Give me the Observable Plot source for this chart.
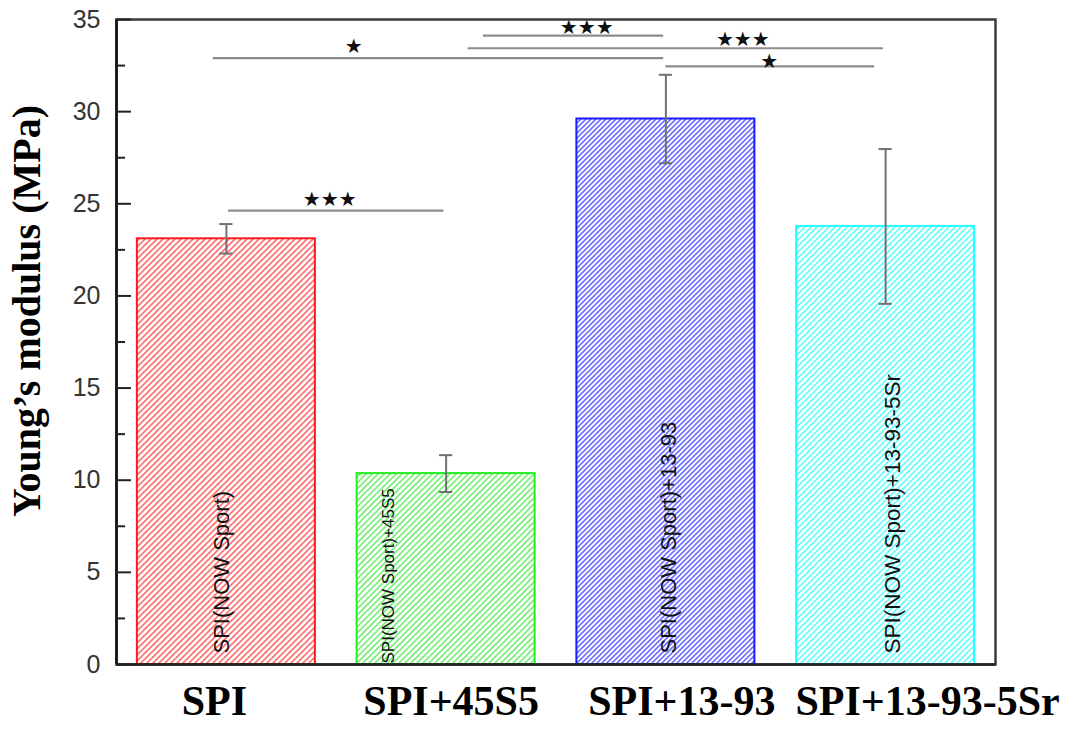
<!DOCTYPE html>
<html><head><meta charset="utf-8">
<script src="https://cdn.jsdelivr.net/npm/d3@7"></script>
<script src="https://cdn.jsdelivr.net/npm/@observablehq/plot@0.6"></script>
<style>body{margin:0;background:#fff}#chart svg{display:block}</style>
</head><body><div id="chart"></div>
<script>
// ---- data ----
const categories = ["SPI", "SPI+45S5", "SPI+13-93", "SPI+13-93-5Sr"];
const means = [23.1, 10.36, 29.6, 23.77];
const errors = [0.8, 1.0, 2.4, 4.2];
const barLabels = ["SPI(NOW Sport)", "SPI(NOW Sport)+45S5", "SPI(NOW Sport)+13-93", "SPI(NOW Sport)+13-93-5Sr"];
const yTicks = [0, 5, 10, 15, 20, 25, 30, 35];
const yMinorTicks = [2.5, 7.5, 12.5, 17.5, 22.5, 27.5, 32.5];
const yLabel = "Young\u2019s modulus (MPa)";
// significance brackets (x in category-index units, y in MPa)
const bracketY = [24.63, 34.13, 33.44, 32.90, 32.46];
const bracketFrom = [0.01, 1.17, 1.10, -0.06, 2.0];
const bracketTo = [0.99, 1.99, 2.99, 1.99, 2.95];
const bracketStars = ["\u2605\u2605\u2605", "\u2605\u2605\u2605", "\u2605\u2605\u2605", "\u2605", "\u2605"];
const starX = [0.47, 1.64, 2.35, 0.58, 2.47];
const starY = [25.23, 34.56, 33.91, 33.53, 32.72];

// ---- styles ----
const edgeColors = ["#ff1a1a", "#22ee22", "#1a1aff", "#22ffff"];
const hatch = [
  {line: "#ff7070", size: 6, w: 1.6},
  {line: "#77f077", size: 6, w: 1.6},
  {line: "#7070ff", size: 5, w: 1.6},
  {line: "#66ffff", size: 6, w: 1.6}
];
const labelDx = [-12, 5, 16, 42];
const innerDx = [-4, -58, 3, 7];
const innerDy = [-11, -1, -11, -11];
const innerSize = [22, 17, 22, 22.5];
const halfBar = 0.405;
const capHalf = 0.03;

const bars = categories.map((c, i) => ({i, cat: c, mean: means[i], err: errors[i], label: barLabels[i]}));
const brackets = bracketY.map((y, k) => ({y, x1: bracketFrom[k], x2: bracketTo[k]}));
const stars = bracketStars.map((s, k) => ({s, x: starX[k], y: starY[k]}));

function hatchDefs() {
  const defs = d3.create("svg:defs");
  hatch.forEach((h, i) => {
    const s = h.size;
    const p = defs.append("pattern").attr("id", "hatch" + i)
      .attr("patternUnits", "userSpaceOnUse").attr("width", s).attr("height", s);
    p.append("rect").attr("width", s).attr("height", s).attr("fill", "#fff");
    p.append("path")
      .attr("d", `M0,${s} L${s},0 M${-s/2},${s/2} L${s/2},${-s/2} M${s/2},${s*1.5} L${s*1.5},${s/2}`)
      .attr("stroke", h.line).attr("stroke-width", h.w);
  });
  return defs.node();
}

const W = 1067, H = 733, mL = 116, mR = 72, mT = 19, mB = 69;
const frameW = W - mL - mR;

const plot = Plot.plot({
  width: W, height: H,
  marginLeft: mL, marginRight: mR, marginTop: mT, marginBottom: mB,
  x: {domain: [-0.5, 3.5], axis: null},
  y: {domain: [0, 35], axis: null},
  style: {background: "#fff"},
  marks: [
    hatchDefs,
    ...bars.map((d, i) => Plot.rectY([d], {
      x1: d => d.i - halfBar, x2: d => d.i + halfBar, y1: 0, y2: "mean",
      fill: `url(#hatch${i})`, stroke: edgeColors[i], strokeWidth: 2
    })),
    ...bars.map((d, i) => Plot.text([d], {
      x: "i", y: 0, text: "label", rotate: -90, textAnchor: "start",
      dx: innerDx[i], dy: innerDy[i], fontSize: innerSize[i],
      fontFamily: "Liberation Sans, Arial, sans-serif", fill: "#111"
    })),
    Plot.ruleX(bars, {x: "i", y1: d => d.mean - d.err, y2: d => d.mean + d.err, stroke: "#707070", strokeWidth: 2}),
    Plot.ruleY(bars, {y: d => d.mean + d.err, x1: d => d.i - capHalf, x2: d => d.i + capHalf, stroke: "#707070", strokeWidth: 2}),
    Plot.ruleY(bars, {y: d => d.mean - d.err, x1: d => d.i - capHalf, x2: d => d.i + capHalf, stroke: "#707070", strokeWidth: 2}),
    Plot.ruleY(brackets, {y: "y", x1: "x1", x2: "x2", stroke: "#8c8c8c", strokeWidth: 2.2}),
    Plot.text(stars, {x: "x", y: "y", text: "s", fontSize: 20, fill: "#111",
      fontFamily: "DejaVu Sans, sans-serif"}),
    Plot.frame({stroke: "#3a3a3a", strokeWidth: 2.5}),
    Plot.ruleX([-0.5], {stroke: "#111", strokeWidth: 2.5}),
    Plot.ruleY([0], {stroke: "#222", strokeWidth: 2.5}),
    Plot.tickY(yTicks, {y: d => d, insetRight: frameW - 15, stroke: "#222", strokeWidth: 2}),
    Plot.tickY(yMinorTicks, {y: d => d, insetRight: frameW - 9, stroke: "#222", strokeWidth: 2}),
    Plot.axisY(yTicks, {tickSize: 0, tickPadding: 16, fontSize: 25, fill: "#333",
      fontFamily: "Liberation Sans, Arial, sans-serif", label: null}),
    Plot.text([yLabel], {frameAnchor: "left", textAnchor: "middle", text: d => d, rotate: -90, dx: -89, dy: -31,
      fontSize: 40, fontWeight: "bold", fontFamily: "Liberation Serif, Times New Roman, serif", fill: "#000"}),
    ...bars.map((d, i) => Plot.text([d], {
      x: "i", frameAnchor: "bottom", text: "cat", dx: labelDx[i], dy: 50,
      fontSize: 42, fontWeight: "bold", fontFamily: "Liberation Serif, Times New Roman, serif", fill: "#000"
    }))
  ]
});
document.getElementById("chart").appendChild(plot);
</script>
</body></html>
